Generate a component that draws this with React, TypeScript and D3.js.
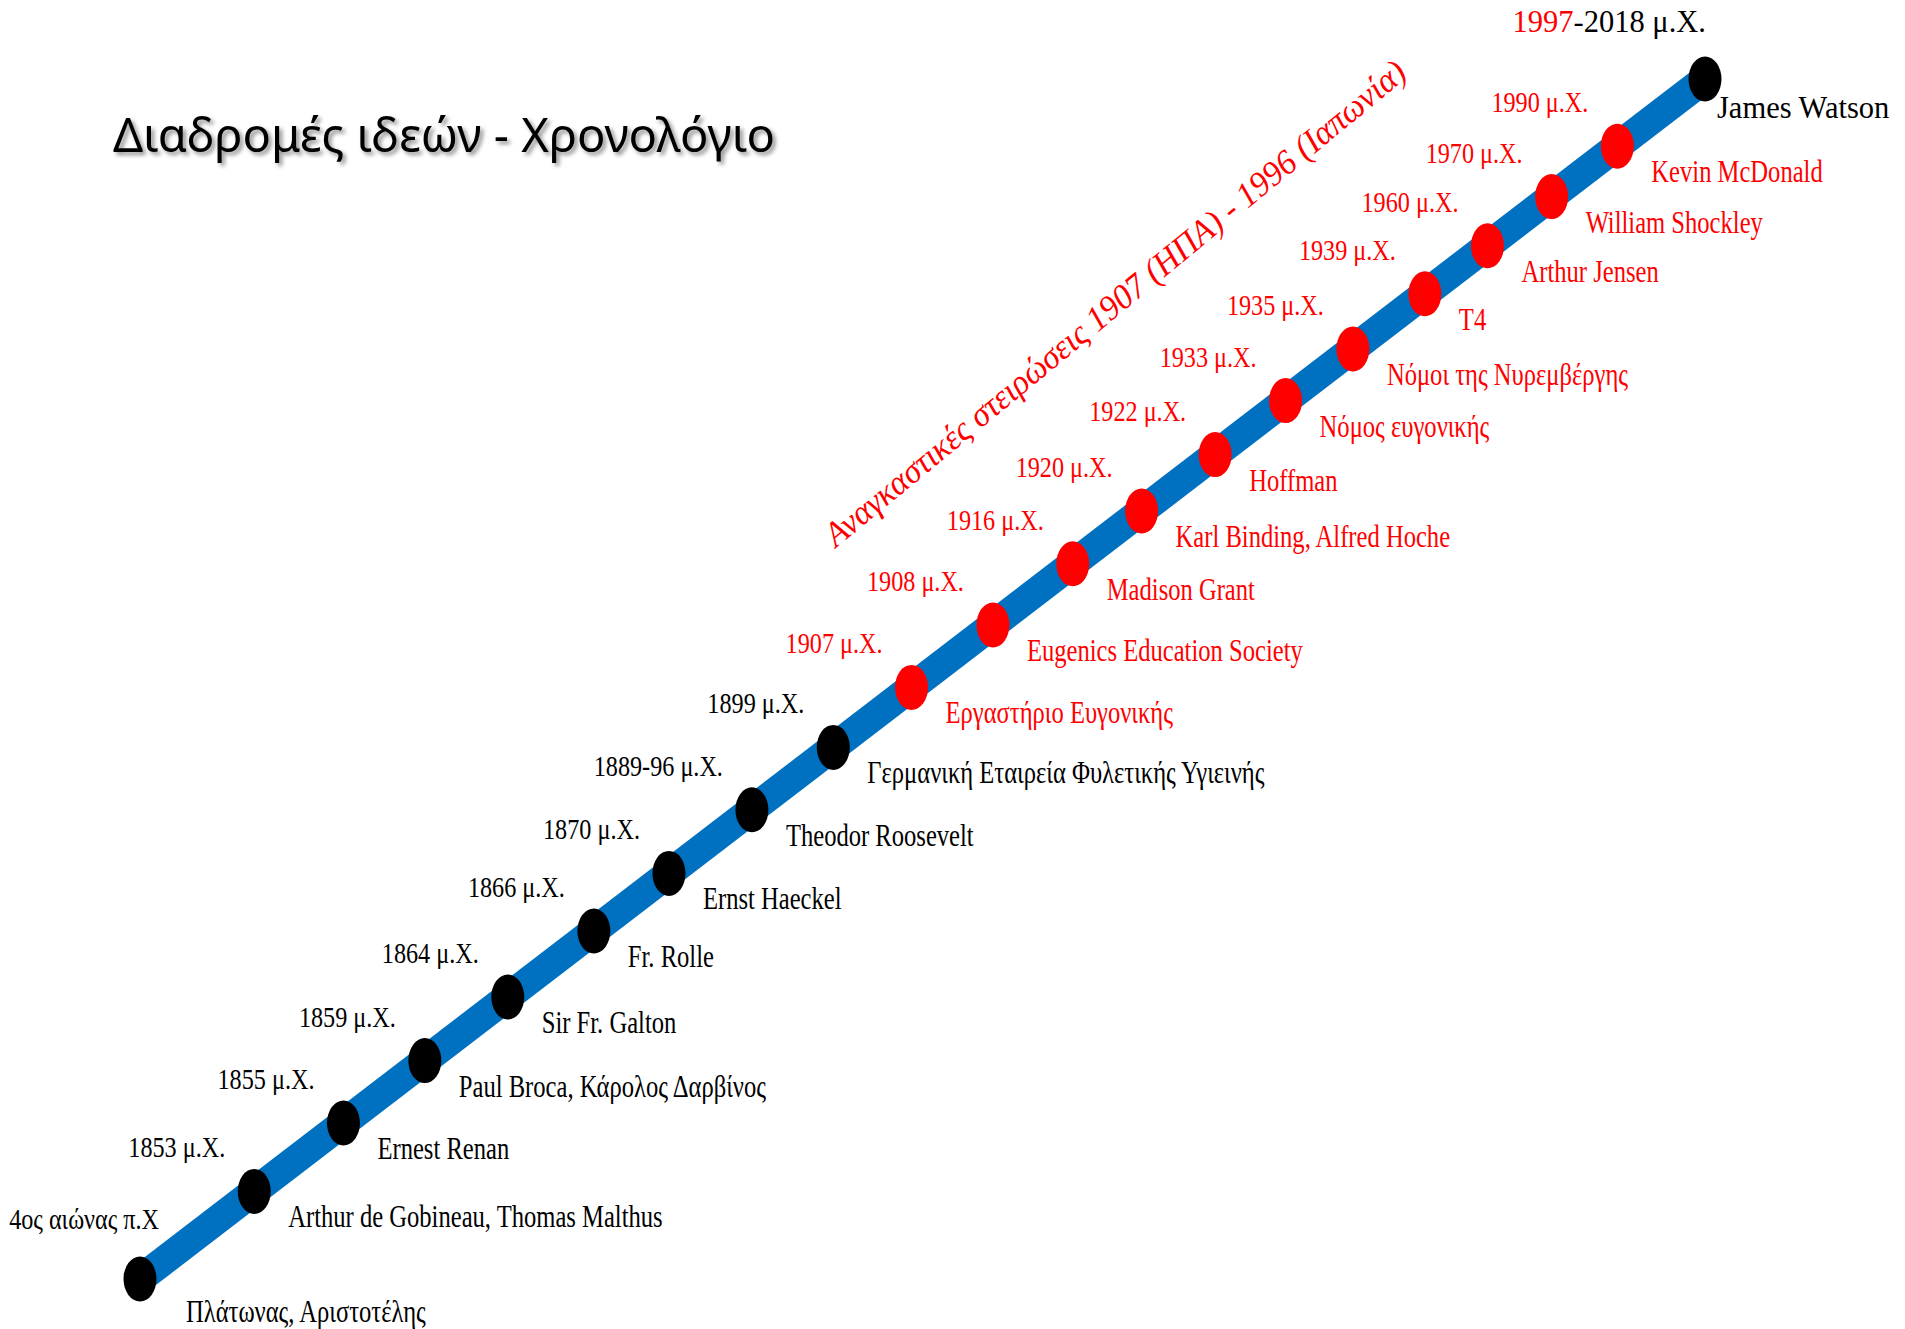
import React from "react";
import * as d3 from "d3";

// timeline entries (bottom-left to top-right)
const dates = [
  "4ος αιώνας π.Χ",
  "1853 μ.Χ.",
  "1855 μ.Χ.",
  "1859 μ.Χ.",
  "1864 μ.Χ.",
  "1866 μ.Χ.",
  "1870 μ.Χ.",
  "1889-96 μ.Χ.",
  "1899 μ.Χ.",
  "1907 μ.Χ.",
  "1908 μ.Χ.",
  "1916 μ.Χ.",
  "1920 μ.Χ.",
  "1922 μ.Χ.",
  "1933 μ.Χ.",
  "1935 μ.Χ.",
  "1939 μ.Χ.",
  "1960 μ.Χ.",
  "1970 μ.Χ.",
  "1990 μ.Χ.",
  "1997-2018 μ.Χ.",
];

const names = [
  "Πλάτωνας, Αριστοτέλης",
  "Arthur de Gobineau, Thomas Malthus",
  "Ernest Renan",
  "Paul Broca, Κάρολος Δαρβίνος",
  "Sir Fr. Galton",
  "Fr. Rolle",
  "Ernst Haeckel",
  "Theodor Roosevelt",
  "Γερμανική Εταιρεία Φυλετικής Υγιεινής",
  "Εργαστήριο Ευγονικής",
  "Eugenics Education Society",
  "Madison Grant",
  "Karl Binding, Alfred Hoche",
  "Hoffman",
  "Νόμος ευγονικής",
  "Νόμοι της Νυρεμβέργης",
  "T4",
  "Arthur Jensen",
  "William Shockley",
  "Kevin McDonald",
  "James Watson",
];

// place of each entry along the timeline bar, percent of its length
const progress = [
  0, 7.3, 13.0, 18.2, 23.5, 29.0, 33.8, 39.1, 44.3, 49.3, 54.5, 59.6, 64.0,
  68.7, 73.2, 77.5, 82.1, 86.1, 90.2, 94.4, 100,
];

// 0 = before, 1 = forced sterilisation era, 2 = after
const phase = [0, 0, 0, 0, 0, 0, 0, 0, 0, 1, 1, 1, 1, 1, 1, 1, 1, 1, 1, 1, 2];

const title = "Διαδρομές ιδεών - Χρονολόγιο";
const bandLabel = "Αναγκαστικές στειρώσεις 1907 (ΗΠΑ) - 1996 (Ιαπωνία)";

const W = 1905;
const H = 1329;
const RED = "#ff0000";
const BLUE = "#0070c0";
const SERIF = "'Liberation Serif', 'Times New Roman', serif";

export default function App() {
  const x = d3.scaleLinear().domain([0, 100]).range([140, 1705]);
  const y = d3.scaleLinear().domain([0, 100]).range([1279, 79]);
  const color = d3
    .scaleOrdinal<number, string>()
    .domain([0, 1, 2])
    .range(["#000", RED, "#000"]);

  const last = progress.length - 1;
  const angle = (Math.atan2(y(0) - y(100), x(100) - x(0)) * 180) / Math.PI;

  return (
    <svg
      width={W}
      height={H}
      style={{ position: "absolute", left: 0, top: 0, background: "#fff" }}
    >
      <defs>
        <filter id="shadow" x="-5%" y="-20%" width="110%" height="150%">
          <feDropShadow dx="3" dy="3" stdDeviation="2" floodColor="#000" floodOpacity="0.45" />
        </filter>
      </defs>

      <text
        x={113}
        y={152}
        fontFamily="'Noto Sans', 'Open Sans', sans-serif"
        fontSize={47}
        textLength={662}
        lengthAdjust="spacingAndGlyphs"
        fill="#000"
        filter="url(#shadow)"
      >
        {title}
      </text>

      <text
        transform={`translate(836,548) rotate(${-angle - 2})`}
        fontFamily={SERIF}
        fontStyle="italic"
        fontSize={35}
        fill={RED}
        textLength={742}
        lengthAdjust="spacingAndGlyphs"
      >
        {bandLabel}
      </text>

      <line
        x1={x(-0.5)}
        y1={y(-0.5)}
        x2={x(100)}
        y2={y(100)}
        stroke={BLUE}
        strokeWidth={29}
      />

      {progress.map((p, i) => (
        <ellipse
          key={"dot" + i}
          cx={x(p)}
          cy={y(p)}
          rx={16.5}
          ry={22.5}
          fill={color(phase[i])}
        />
      ))}

      {progress.map((p, i) => {
        const cx = x(p);
        const cy = y(p);
        const big = i === last;
        const dx = i === 0 ? 19 : big ? 1 : -29;
        const dy = i === 0 ? -50 : big ? -47 : -34;
        const sy = big ? 1 : 1.25;
        const parts = phase[i] === 2 ? dates[i].split(/(?=-)/) : [dates[i]];
        return (
          <text
            key={"date" + i}
            transform={`translate(${cx + dx},${cy + dy}) scale(1,${sy})`}
            textAnchor="end"
            fontFamily={SERIF}
            fontSize={big ? 30.5 : 24.2}
            fill={color(phase[i])}
          >
            {parts.length > 1 ? (
              <>
                <tspan fill={RED}>{parts[0]}</tspan>
                <tspan fill="#000">{parts.slice(1).join("")}</tspan>
              </>
            ) : (
              parts[0]
            )}
          </text>
        );
      })}

      {progress.map((p, i) => {
        const cx = x(p);
        const cy = y(p);
        const big = i === last;
        const dx = i === 0 ? 46 : big ? 12 : 34;
        const dy = i === 0 ? 43 : big ? 39 : 36;
        const sy = big ? 1 : 1.25;
        return (
          <text
            key={"name" + i}
            transform={`translate(${cx + dx},${cy + dy}) scale(1,${sy})`}
            fontFamily={SERIF}
            fontSize={big ? 30.5 : 24.6}
            fill={color(phase[i])}
          >
            {names[i]}
          </text>
        );
      })}
    </svg>
  );
}
